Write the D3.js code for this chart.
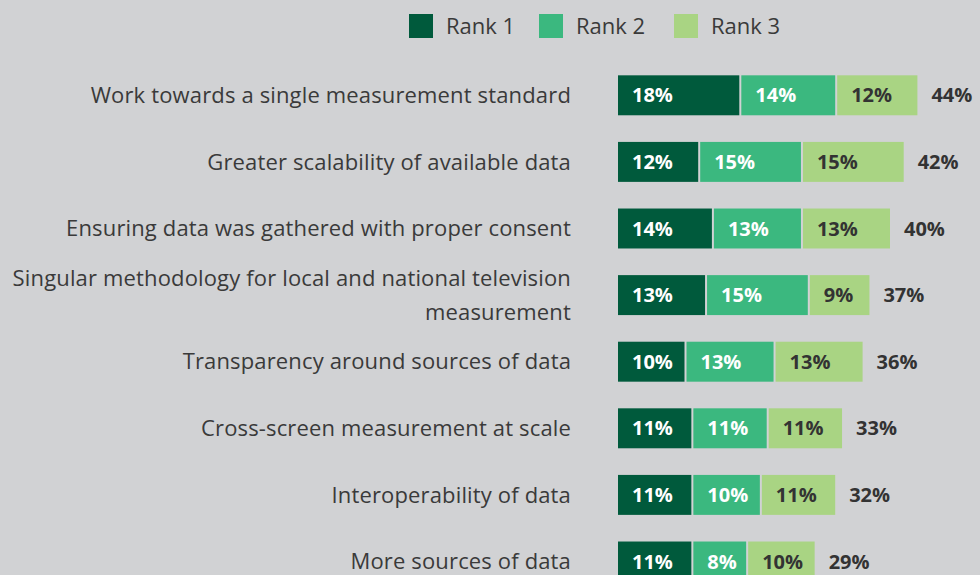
<!DOCTYPE html>
<meta charset="utf-8">
<head>
<style>
  body { margin: 0; background: #d1d2d4; font-family: "Open Sans", Lato, sans-serif; }
  svg { display: block; }
</style>
<script src="https://cdn.jsdelivr.net/npm/d3@7"></script>
</head>
<body>
<svg id="chart"></svg>
<script>
let categories = [
  "Work towards a single measurement standard",
  "Greater scalability of available data",
  "Ensuring data was gathered with proper consent",
  "Singular methodology for local and national television measurement",
  "Transparency around sources of data",
  "Cross-screen measurement at scale",
  "Interoperability of data",
  "More sources of data"
]
let rank1 = [18, 12, 14, 13, 10, 11, 11, 11]
let rank2 = [14, 15, 13, 15, 13, 11, 10, 8]
let rank3 = [12, 15, 13, 9, 13, 11, 11, 10]
let totals = [44, 42, 40, 37, 36, 33, 32, 29]
let seriesNames = ["Rank 1", "Rank 2", "Rank 3"]
let colors = ["#005a3c", "#3bb87f", "#a9d483"]

let width = 980, height = 575
let svg = d3.select("#chart").attr("width", width).attr("height", height)

let rows = categories.map((c, i) => ({ cat: c, vals: [rank1[i], rank2[i], rank3[i]], total: totals[i] }))

let x = d3.scaleLinear().domain([0, 100]).range([618, 618 + 685])
let y = d3.scaleBand().domain(categories).range([62, 62 + 66.6 * 8]).paddingInner(0.4).paddingOuter(0.2)

// legend
let legend = svg.append("g")
let legX = [409, 539, 674]
seriesNames.forEach((s, i) => {
  legend.append("rect").attr("x", legX[i]).attr("y", 14).attr("width", 24).attr("height", 24).attr("fill", colors[i])
  legend.append("text").attr("x", legX[i] + 37).attr("y", 26).attr("dy", "0.35em")
    .attr("font-size", 22).attr("fill", "#3a3a3a").text(s)
})

// category labels
let labels = svg.selectAll(".cat").data(rows).enter().append("text")
  .attr("class", "cat")
  .attr("text-anchor", "end")
  .attr("x", 571)
  .attr("font-size", 22)
  .attr("letter-spacing", 0.15)
  .attr("fill", "#3a3a3a")

labels.each(function(d) {
  let t = d3.select(this)
  let words = d.cat.split(" "), lines = [], line = []
  let probe = t.append("tspan")
  words.forEach(w => {
    line.push(w)
    probe.text(line.join(" "))
    if (probe.node().getComputedTextLength() > 575 && line.length > 1) {
      line.pop(); lines.push(line.join(" ")); line = [w]
    }
  })
  lines.push(line.join(" "))
  probe.remove()
  let cy = y(d.cat) + y.bandwidth() / 2
  lines.forEach((l, k) => {
    t.append("tspan").attr("x", 571)
      .attr("y", cy + (k - (lines.length - 1) / 2) * 34)
      .attr("dy", "0.35em").text(l)
  })
})

// bars
let groups = svg.selectAll(".row").data(rows).enter().append("g").attr("class", "row")

groups.each(function(d) {
  let g = d3.select(this)
  let acc = 0
  d.vals.forEach((v, i) => {
    let x0 = x(acc), x1 = x(acc + v)
    g.append("rect").attr("x", x0).attr("y", y(d.cat))
      .attr("width", x1 - x0 - 2).attr("height", y.bandwidth()).attr("fill", colors[i])
    g.append("text").attr("x", x0 + 14).attr("y", y(d.cat) + y.bandwidth() / 2).attr("dy", "0.35em")
      .attr("font-size", 20).attr("font-weight", "bold")
      .attr("fill", i == 2 ? "#333" : "#fff").text(v + "%")
    acc += v
  })
  g.append("text").attr("x", x(d.total) + 12).attr("y", y(d.cat) + y.bandwidth() / 2).attr("dy", "0.35em")
    .attr("font-size", 20).attr("font-weight", "bold").attr("fill", "#333").text(d.total + "%")
})
</script>
</body>
